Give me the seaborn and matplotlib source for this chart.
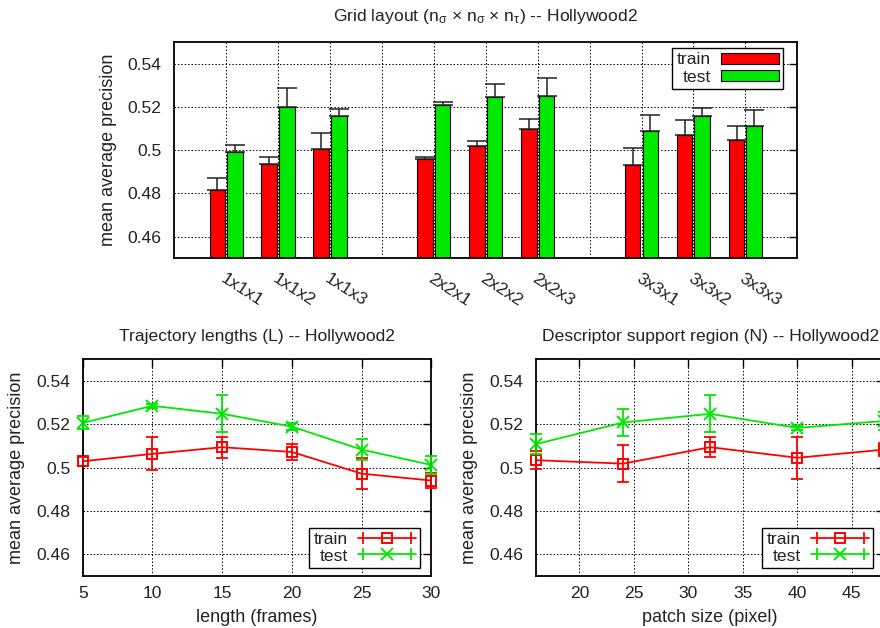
import numpy as np
import pandas as pd
import seaborn as sns
import matplotlib.pyplot as plt
from matplotlib.lines import Line2D
from matplotlib.legend_handler import HandlerLine2D

# ---- data ----
grid_slots = ['1x1x1', '1x1x2', '1x1x3', 'gap1', '2x2x1', '2x2x2', '2x2x3',
              'gap2', '3x3x1', '3x3x2', '3x3x3']
grid_labels = ['1x1x1', '1x1x2', '1x1x3', '', '2x2x1', '2x2x2', '2x2x3',
               '', '3x3x1', '3x3x2', '3x3x3']
grid_train = [0.4815, 0.4935, 0.5005, 0, 0.4960, 0.5018, 0.5097, 0, 0.4932, 0.5069, 0.5048]
grid_train_err = [0.0057, 0.0031, 0.0072, 0, 0.0006, 0.0025, 0.0046, 0, 0.0076, 0.0068, 0.0064]
grid_test = [0.4992, 0.5200, 0.5157, 0, 0.5211, 0.5246, 0.5251, 0, 0.5089, 0.5158, 0.5112]
grid_test_err = [0.0030, 0.0089, 0.0031, 0, 0.0012, 0.0059, 0.0084, 0, 0.0074, 0.0039, 0.0073]

length_vals = [5, 10, 15, 20, 25, 30]
len_train = [0.5029, 0.5063, 0.5094, 0.5072, 0.4972, 0.4940]
len_train_err = [0.0020, 0.0076, 0.0048, 0.0035, 0.0070, 0.0035]
len_test = [0.5206, 0.5285, 0.5248, 0.5189, 0.5083, 0.5012]
len_test_err = [0.0030, 0.0010, 0.0086, 0.0015, 0.0050, 0.0040]

patch_vals = [16, 24, 32, 40, 48]
patch_train = [0.5034, 0.5018, 0.5094, 0.5045, 0.5083]
patch_train_err = [0.0042, 0.0084, 0.0047, 0.0097, 0.0030]
patch_test = [0.5108, 0.5208, 0.5248, 0.5183, 0.5215]
patch_test_err = [0.0045, 0.0062, 0.0086, 0.0010, 0.0040]

series = ['train', 'test']
RED = '#ff0000'
GREEN = '#00e800'
colors = {'train': RED, 'test': GREEN}

FS = 12.6

sns.set_style('white')
plt.rcParams['font.family'] = ['Liberation Sans', 'DejaVu Sans']
plt.rcParams['mathtext.fontset'] = 'custom'
plt.rcParams['mathtext.rm'] = 'Liberation Sans'
plt.rcParams['mathtext.it'] = 'Liberation Sans'
plt.rcParams['font.size'] = FS
plt.rcParams['axes.linewidth'] = 1.3
plt.rcParams['axes.edgecolor'] = 'black'
plt.rcParams['text.color'] = '#222222'
plt.rcParams['axes.labelcolor'] = '#222222'
plt.rcParams['xtick.color'] = 'black'
plt.rcParams['ytick.color'] = 'black'
plt.rcParams['xtick.labelcolor'] = '#222222'
plt.rcParams['ytick.labelcolor'] = '#222222'

fig = plt.figure(figsize=(8.8, 6.28), dpi=100)
ax_top = fig.add_axes([0.198, 0.589, 0.708, 0.344])
ax_len = fig.add_axes([0.094, 0.083, 0.396, 0.345])
ax_patch = fig.add_axes([0.609, 0.083, 0.396, 0.345])


def style_axes(ax):
    ax.grid(True, color='black', linestyle=(0, (1.5, 2)), linewidth=0.7)
    ax.set_axisbelow(True)
    ax.tick_params(direction='in', length=6, width=1, top=True, right=True,
                   labelsize=FS)
    ax.tick_params(axis='y', pad=9)
    ax.tick_params(axis='x', pad=7)
    ax.set_ylim(0.45, 0.55)
    ax.set_yticks([0.46, 0.48, 0.5, 0.52, 0.54])
    ax.set_yticklabels(['0.46', '0.48', '0.5', '0.52', '0.54'])
    ax.set_ylabel('mean average precision', fontsize=FS + 0.4, labelpad=8)


# ---- top: grid layout bars ----
df_grid = pd.DataFrame({
    'slot': grid_slots * 2,
    'map': grid_train + grid_test,
    'set': ['train'] * len(grid_slots) + ['test'] * len(grid_slots),
})
sns.barplot(data=df_grid, x='slot', y='map', hue='set', order=grid_slots,
            hue_order=series, palette=colors, saturation=1, width=0.68, gap=0.12,
            edgecolor='black', linewidth=0.8, errorbar=None, ax=ax_top)
for cont, errs in zip(ax_top.containers, [grid_train_err, grid_test_err]):
    xs, ys, es = [], [], []
    for bar in cont:
        cx = bar.get_x() + bar.get_width() / 2
        xs.append(cx)
        ys.append(bar.get_height())
        es.append(errs[int(round(cx))])
    ax_top.errorbar(xs, ys, yerr=[np.zeros(len(es)), es], fmt='none', ecolor='#222222',
                    elinewidth=1.1, capsize=7.5, capthick=1.1, zorder=3)
style_axes(ax_top)
ax_top.set_xlim(-1, len(grid_slots))
ax_top.set_xticks(range(len(grid_slots)))
ax_top.set_xticklabels(grid_labels, rotation=-33, ha='left', va='top',
                       rotation_mode='anchor')
ax_top.tick_params(axis='x', length=0, pad=9)
ax_top.set_xlabel('')
ax_top.set_title(r'Grid layout (n$_\sigma$ $\times$ n$_\sigma$ $\times$ n$_\tau$) -- Hollywood2',
                 fontsize=FS, pad=15)
h, l = ax_top.get_legend_handles_labels()
leg = ax_top.legend(h, l, loc='upper right', bbox_to_anchor=(1 - 14 / 623, 1 - 6 / 216),
                    borderaxespad=0, markerfirst=False, fancybox=False,
                    edgecolor='black', framealpha=1, handlelength=3.3, handleheight=0.55,
                    fontsize=FS, labelspacing=0.12, handletextpad=0.6, borderpad=0.25)
leg.get_frame().set_linewidth(1.0)


# ---- bottom: line plots with error bars ----
def line_panel(ax, xvals, train, train_err, test, test_err, xlabel, title):
    df = pd.DataFrame({
        'x': list(xvals) * 2,
        'map': list(train) + list(test),
        'set': ['train'] * len(xvals) + ['test'] * len(xvals),
    })
    sns.lineplot(data=df, x='x', y='map', hue='set', style='set', hue_order=series,
                 style_order=series, palette=colors, markers={'train': 's', 'test': 'X'},
                 dashes=False, markersize=7, linewidth=1.3, legend=False, ax=ax)
    for line in ax.lines:
        c = line.get_color()
        line.set_markeredgecolor(c)
        line.set_markerfacecolor('none')
        line.set_markeredgewidth(1.4)
        line.set_clip_on(False)
        if line.get_marker() == 'X':
            line.set_marker('x')
            line.set_markersize(8)
    for name, ys, es in [('train', train, train_err), ('test', test, test_err)]:
        eb = ax.errorbar(xvals, ys, yerr=es, fmt='none', ecolor=colors[name],
                         elinewidth=1.3, capsize=4, capthick=1.3, zorder=3)
        for art in eb.lines[1] + eb.lines[2]:
            art.set_clip_on(False)
    style_axes(ax)
    ax.set_xlabel(xlabel, fontsize=FS + 0.4, labelpad=6)
    ax.set_title(title, fontsize=FS, pad=13)
    handles, caps = [], []
    for name, mk, ms in [('train', 's', 7), ('test', 'x', 8)]:
        main = Line2D([], [], color=colors[name], marker=mk, markersize=ms,
                      markerfacecolor='none', markeredgecolor=colors[name],
                      markeredgewidth=1.4, linewidth=1.3)
        cap = Line2D([], [], color=colors[name], marker='|', markersize=9,
                     markeredgewidth=1.3, linestyle='none')
        handles.append((main, cap))
        caps.append(cap)
    hmap = {c: HandlerLine2D(numpoints=2) for c in caps}
    w_px = ax.get_position().width * 880
    h_px = ax.get_position().height * 628
    leg = ax.legend(handles, series, loc='lower right',
                    bbox_to_anchor=(1 - 11 / w_px, 8 / h_px), borderaxespad=0,
                    markerfirst=False, fancybox=False, edgecolor='black', framealpha=1,
                    handlelength=3.3, fontsize=FS, labelspacing=0.05, borderpad=0.25,
                    handletextpad=0.6, numpoints=1, handler_map=hmap)
    leg.get_frame().set_linewidth(1.0)


line_panel(ax_len, length_vals, len_train, len_train_err, len_test, len_test_err,
           'length (frames)', 'Trajectory lengths (L) -- Hollywood2')
ax_len.set_xlim(5, 30)
ax_len.set_xticks([5, 10, 15, 20, 25, 30])

line_panel(ax_patch, patch_vals, patch_train, patch_train_err, patch_test, patch_test_err,
           'patch size (pixel)', 'Descriptor support region (N) -- Hollywood2')
ax_patch.set_xlim(16, 48)
ax_patch.set_xticks([20, 25, 30, 35, 40, 45])

fig.savefig('out.png', dpi=100)
